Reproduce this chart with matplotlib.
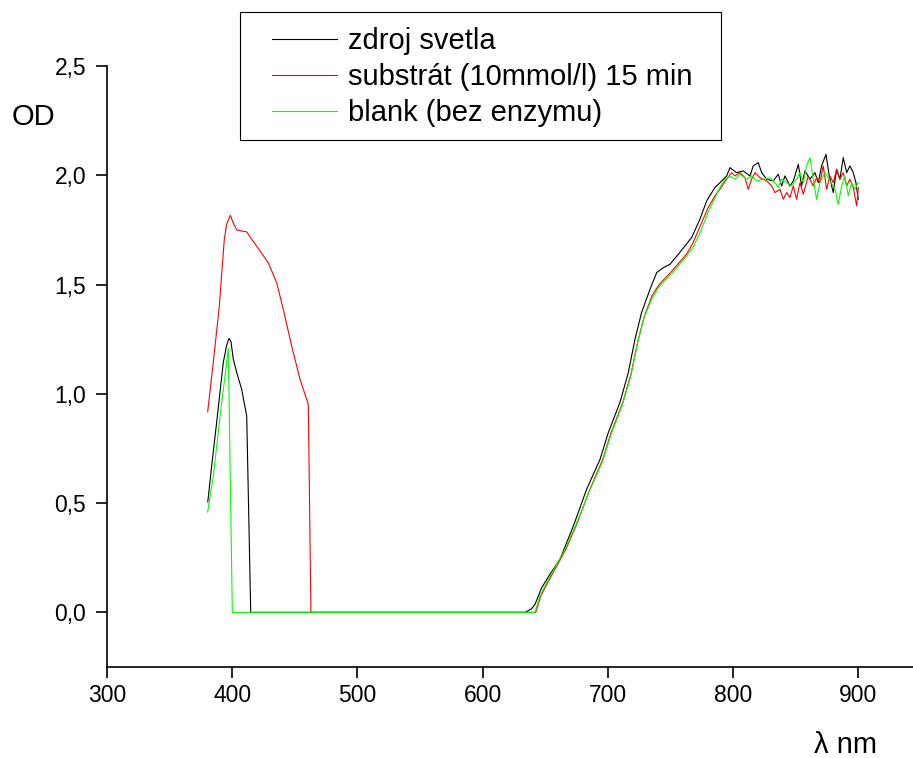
import matplotlib
matplotlib.use('Agg')
import matplotlib.pyplot as plt
from matplotlib.patches import Rectangle

plt.rcParams['font.family'] = ['Liberation Sans', 'DejaVu Sans']

# zdroj svetla (black)
black_nm = [380.5, 383.6, 387.6, 392.9, 395.5, 397.4, 399.0, 400.9, 404.0, 407.6, 411.6, 414.8,
            634.0, 639.2, 641.9, 647.2, 653.8, 661.8, 672.5, 683.1, 693.8, 700.4, 709.7, 716.4,
            721.7, 727.0, 733.7, 739.1, 744.3, 749.7, 756.3, 761.7, 767.0, 773.6, 779.0, 785.6,
            789.6, 795.0, 797.6, 802.9, 808.2, 813.6, 816.2, 820.2, 822.9, 826.9, 832.2, 836.2,
            838.9, 841.5, 845.5, 848.2, 852.2, 854.8, 857.5, 861.5, 865.5, 868.1, 870.8, 874.3,
            876.9, 880.1, 882.8, 885.4, 888.1, 890.8, 893.4, 896.1, 898.2, 900.1]
black_od = [0.505, 0.67, 0.87, 1.144, 1.22, 1.254, 1.24, 1.158, 1.09, 1.02, 0.898, 0.0,
            0.0, 0.017, 0.037, 0.113, 0.174, 0.243, 0.395, 0.563, 0.70, 0.822, 0.96, 1.097,
            1.249, 1.372, 1.478, 1.555, 1.577, 1.593, 1.638, 1.677, 1.715, 1.799, 1.883, 1.944,
            1.966, 1.997, 2.035, 2.012, 2.020, 1.997, 2.043, 2.058, 2.012, 1.982, 1.974, 2.005,
            1.951, 1.997, 1.951, 1.974, 2.050, 1.951, 2.020, 1.982, 2.012, 1.966, 2.043, 2.096,
            1.997, 1.921, 2.027, 1.982, 2.081, 2.012, 2.043, 2.012, 1.966, 1.890]

# substrat (red)
red_nm = [380.4, 384.9, 389.7, 393.7, 395.6, 398.5, 401.0, 403.6, 407.5, 411.6, 415.6, 422.2,
          428.8, 435.5, 440.8, 447.5, 454.2, 460.8, 462.9, 642.5, 646.5, 652.0, 658.5, 666.5,
          675.0, 685.5, 696.0, 702.5, 712.0, 718.5, 724.0, 729.5, 735.5, 741.0, 746.0, 751.0,
          757.0, 763.0, 768.0, 774.0, 780.0, 786.0,
          789.6, 794.9, 798.9, 801.6, 805.6, 809.6, 812.2, 814.9, 817.6, 821.5, 826.9, 830.9,
          833.5, 837.5, 840.2, 842.8, 845.5, 848.2, 850.8, 853.5, 856.2, 860.1, 864.1, 866.8,
          869.5, 872.1, 874.8, 877.5, 880.1, 882.8, 885.4, 888.1, 890.8, 893.4, 896.1, 898.8,
          900.1]
red_od = [0.917, 1.144, 1.40, 1.707, 1.776, 1.817, 1.78, 1.75, 1.745, 1.741, 1.707, 1.654,
          1.60, 1.509, 1.387, 1.219, 1.066, 0.952, 0.0, 0.0, 0.075, 0.136, 0.204, 0.288,
          0.40, 0.56, 0.70, 0.82, 0.96, 1.09, 1.24, 1.36, 1.45, 1.50, 1.53, 1.56,
          1.60, 1.64, 1.69, 1.77, 1.85, 1.91,
          1.936, 1.982, 2.012, 1.997, 2.012, 1.989, 1.936, 1.982, 2.012, 1.989, 1.974, 1.951,
          1.921, 1.936, 1.890, 1.921, 1.898, 1.951, 1.890, 1.966, 1.913, 1.997, 1.951, 1.989,
          1.966, 2.043, 1.936, 1.997, 1.966, 2.027, 1.982, 2.012, 1.951, 1.982, 1.944, 1.860,
          1.944]

# blank (green)
green_nm = [380.4, 384.9, 390.3, 394.2, 396.9, 400.1, 641.9, 645.8, 651.2, 657.8, 665.8,
            674.5, 685.0, 695.8, 702.4, 711.7, 718.4, 723.7, 729.0, 735.7, 741.0, 746.0, 751.0,
            757.0, 763.0, 768.0, 774.0, 780.0, 786.0,
            789.6, 793.6, 797.6, 801.6, 805.6, 810.9, 814.9, 818.9, 824.2, 829.5, 833.5, 836.2,
            838.9, 842.8, 846.8, 850.8, 853.5, 856.2, 858.8, 861.5, 864.1, 866.8, 869.5, 873.5,
            877.5, 881.5, 884.1, 886.8, 889.4, 892.1, 894.8, 897.4, 900.1]
green_od = [0.459, 0.624, 0.898, 1.081, 1.207, 0.0, 0.0, 0.075, 0.136, 0.204, 0.288,
            0.40, 0.55, 0.69, 0.81, 0.95, 1.08, 1.23, 1.35, 1.44, 1.49, 1.52, 1.55,
            1.59, 1.63, 1.67, 1.74, 1.83, 1.90,
            1.944, 1.982, 1.997, 1.982, 2.005, 1.982, 1.997, 1.974, 1.982, 1.989, 1.966, 1.944,
            1.982, 1.966, 1.951, 1.982, 2.012, 1.966, 2.043, 2.081, 1.982, 1.890, 1.966, 2.012,
            1.974, 1.936, 1.867, 1.951, 1.997, 1.906, 1.966, 1.936, 1.966]

labels = ['zdroj svetla', 'substrát (10mmol/l) 15 min', 'blank (bez enzymu)']
xticks = [300, 400, 500, 600, 700, 800, 900]
yticks = [0.0, 0.5, 1.0, 1.5, 2.0, 2.5]

W, H = 913, 758
fig = plt.figure(figsize=(W / 100, H / 100), dpi=100)
ax = fig.add_axes([107 / W, 1 - 667 / H, 1 - 107 / W, (667 - 66) / H])

ax.plot(black_nm, black_od, color='#000000', lw=0.8, label=labels[0])
ax.plot(red_nm, red_od, color='#ff0000', lw=0.8, label=labels[1])
ax.plot(green_nm, green_od, color='#00ff00', lw=0.8, label=labels[2])

ax.set_xlim(300, 943.8)
ax.set_ylim(-0.25, 2.5)
ax.set_xticks(xticks)
ax.set_xticklabels([str(t) for t in xticks])
ax.set_yticks(yticks)
ax.set_yticklabels([f'{t:.1f}'.replace('.', ',') for t in yticks])

for s in ['top', 'right']:
    ax.spines[s].set_visible(False)
for s in ['left', 'bottom']:
    ax.spines[s].set_linewidth(1.2)
ax.tick_params(axis='both', direction='out', length=8, width=1.2, labelsize=16.5)
ax.tick_params(axis='x', pad=4)
ax.tick_params(axis='y', pad=7)

fig.text(33 / W, 1 - 117 / H, 'OD', fontsize=21, ha='center', va='center')
fig.text(845 / W, 1 - 745 / H, 'λ nm', fontsize=21, ha='center', va='center')

# legend with a manually drawn frame
leg = ax.legend(loc='upper left', bbox_to_anchor=(272 / W, 1 - 27 / H),
                bbox_transform=fig.transFigure, frameon=False, fontsize=21,
                handlelength=2.24, handletextpad=0.35, labelspacing=0.27,
                borderpad=0, borderaxespad=0)
fig.patches.append(Rectangle((240 / W, 1 - 140 / H), (721 - 240) / W, (140 - 12) / H,
                             transform=fig.transFigure, fill=False, lw=0.8,
                             edgecolor='black', zorder=5))

fig.savefig('out.png', dpi=100)
